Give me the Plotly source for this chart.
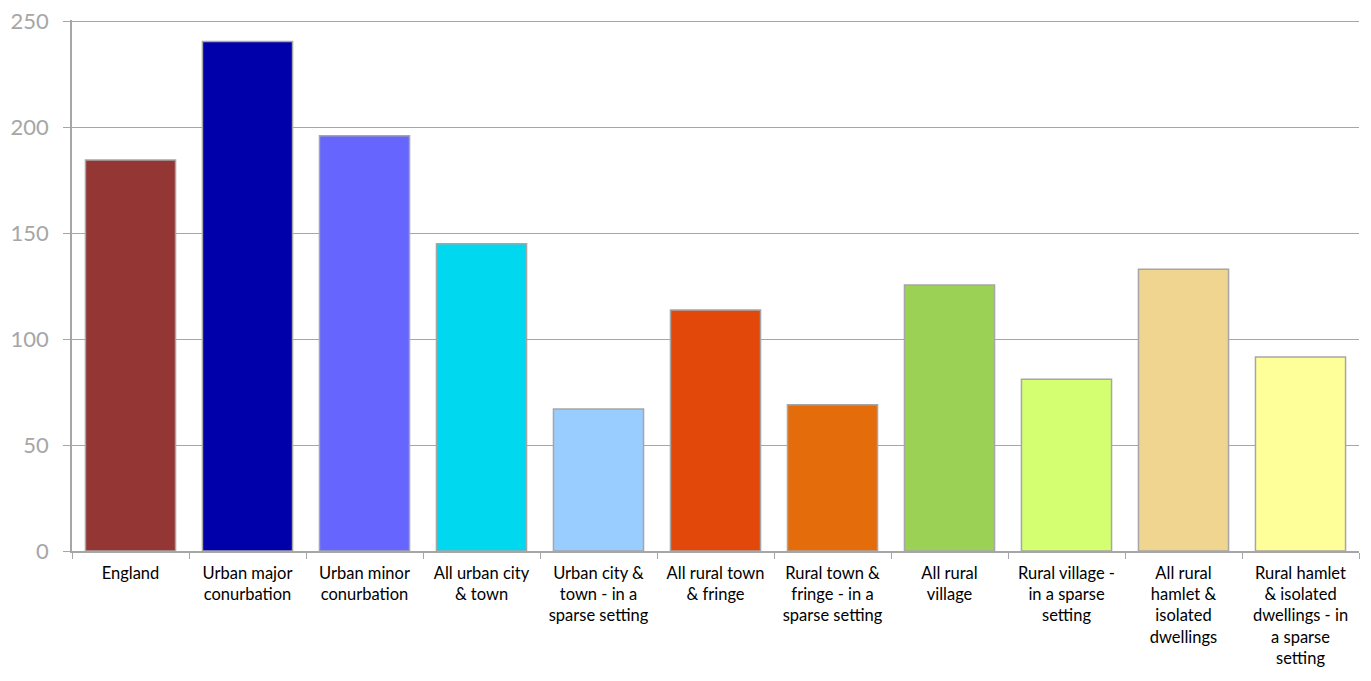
import plotly.graph_objects as go

categories = [
    "England",
    "Urban major<br>conurbation",
    "Urban minor<br>conurbation",
    "All urban city<br>& town",
    "Urban city &<br>town - in a<br>sparse setting",
    "All rural town<br>& fringe",
    "Rural town &<br>fringe - in a<br>sparse setting",
    "All rural<br>village",
    "Rural village -<br>in a sparse<br>setting",
    "All rural<br>hamlet &<br>isolated<br>dwellings",
    "Rural hamlet<br>& isolated<br>dwellings - in<br>a sparse<br>setting",
]
values = [184.5, 240.5, 196, 145, 67, 113.7, 69, 125.5, 81, 133, 91.5]
colors = ["#943634", "#0000AA", "#6666FF", "#00D8F0", "#99CCFF", "#E2480A",
          "#E46C0A", "#9BD155", "#D4FF70", "#F0D590", "#FFFF99"]
y_ticks = [0, 50, 100, 150, 200, 250]

fig = go.Figure()

fig.add_trace(go.Bar(
    x=categories,
    y=values,
    marker=dict(color=colors, line=dict(color="#A6A6A6", width=1.5)),
    showlegend=False,
))

fig.update_xaxes(
    type="category", automargin=False,
    showline=True, linecolor="#A6A6A6", linewidth=1.5,
    ticks="outside", tickson="boundaries", ticklen=6, tickcolor="#A6A6A6",
    tickfont=dict(family="Lato, Open Sans, sans-serif", size=16.5, color="#000000"),
    tickangle=0, ticklabelstandoff=6,
)
fig.update_yaxes(
    range=[0, 250.6], tickvals=y_ticks, automargin=False,
    showline=True, linecolor="#A6A6A6", linewidth=1.5,
    showgrid=True, gridcolor="#A6A6A6", gridwidth=1.2,
    ticks="outside", ticklen=7, tickcolor="#A6A6A6",
    tickfont=dict(family="Lato, Open Sans, sans-serif", size=22, color="#A6A6A6"),
    zeroline=False, ticklabelstandoff=10, ticklabeloverflow="allow",
)

# page body adds an 8px offset, so margins are trimmed to match
fig.update_layout(
    width=1355, height=665,
    margin=dict(l=64, r=4, t=12, b=122),
    bargap=0.23,
    plot_bgcolor="white",
    paper_bgcolor="white",
)

fig.write_html("out.html")
